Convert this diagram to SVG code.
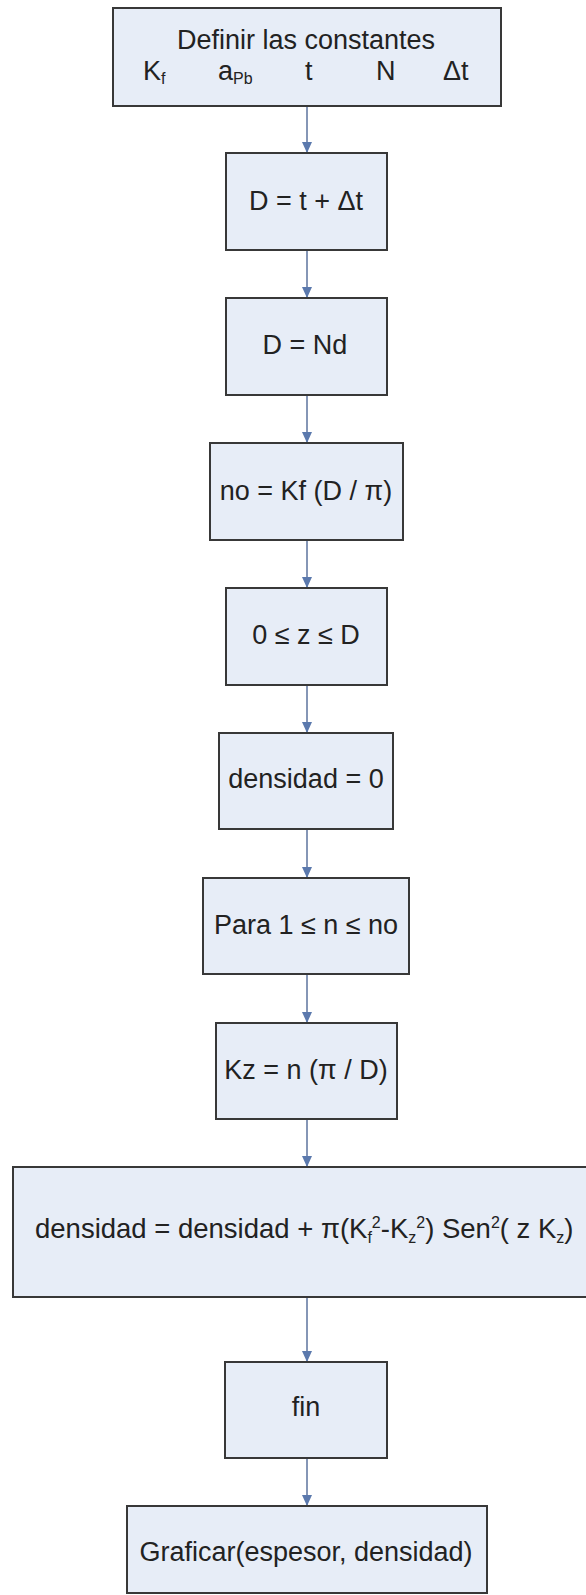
<svg xmlns="http://www.w3.org/2000/svg" width="586" height="1595" viewBox="0 0 586 1595">
  <defs>
    <style>
      .box { fill: #e7edf7; stroke: #383838; stroke-width: 2; }
      .lbl { font-family: "Liberation Sans", Arial, sans-serif; font-size: 27px; fill: #222; }
      .big { font-size: 27.5px; }
      .mid { text-anchor: middle; }
      .sm { font-size: 16px; }
      .conn { stroke: #8596b6; stroke-width: 2; fill: none; marker-end: url(#arr); }
    </style>
    <marker id="arr" markerUnits="userSpaceOnUse" viewBox="0 0 11 10" markerWidth="11" markerHeight="10" refX="11" refY="5" orient="auto">
      <path d="M0,0 L11,5 L0,10 Z" fill="#5b79ad"/>
    </marker>
  </defs>
  <rect width="586" height="1595" fill="#ffffff"/>

  <!-- connectors -->
  <g id="connectors">
    <line class="conn" x1="307" y1="106" x2="307" y2="153"/>
    <line class="conn" x1="307" y1="250" x2="307" y2="298"/>
    <line class="conn" x1="307" y1="395" x2="307" y2="443"/>
    <line class="conn" x1="307" y1="540" x2="307" y2="588"/>
    <line class="conn" x1="307" y1="685" x2="307" y2="733"/>
    <line class="conn" x1="307" y1="829" x2="307" y2="878"/>
    <line class="conn" x1="307" y1="974" x2="307" y2="1023"/>
    <line class="conn" x1="307" y1="1119" x2="307" y2="1167"/>
    <line class="conn" x1="307" y1="1297" x2="307" y2="1362"/>
    <line class="conn" x1="307" y1="1458" x2="307" y2="1506"/>
  </g>

  <!-- constants -->
  <g id="n1">
    <rect class="box" x="113" y="8" width="388" height="98"/>
    <text class="lbl mid" x="306" y="49">Definir las constantes</text>
    <text class="lbl" x="143" y="80">K<tspan class="sm" dy="4">f</tspan></text>
    <text class="lbl" x="218" y="80">a<tspan class="sm" dy="4">Pb</tspan></text>
    <text class="lbl" x="305" y="80">t</text>
    <text class="lbl" x="376" y="80">N</text>
    <text class="lbl" x="443" y="80">Δt</text>
  </g>

  <g id="n2">
    <rect class="box" x="226" y="153" width="161" height="97"/>
    <text class="lbl mid" x="306" y="210">D = t + Δt</text>
  </g>

  <g id="n3">
    <rect class="box" x="226" y="298" width="161" height="97"/>
    <text class="lbl mid" x="305" y="354">D = Nd</text>
  </g>

  <g id="n4">
    <rect class="box" x="210" y="443" width="193" height="97"/>
    <text class="lbl mid" x="306" y="500">no = Kf (D / π)</text>
  </g>

  <g id="n5">
    <rect class="box" x="226" y="588" width="161" height="97"/>
    <text class="lbl mid" x="306" y="644">0 ≤ z ≤ D</text>
  </g>

  <g id="n6">
    <rect class="box" x="219" y="733" width="174" height="96"/>
    <text class="lbl mid" x="306" y="788">densidad = 0</text>
  </g>

  <g id="n7">
    <rect class="box" x="203" y="878" width="206" height="96"/>
    <text class="lbl mid" x="306" y="934">Para 1 ≤ n ≤ no</text>
  </g>

  <g id="n8">
    <rect class="box" x="216" y="1023" width="181" height="96"/>
    <text class="lbl mid" x="306" y="1079">Kz = n (π / D)</text>
  </g>

  <g id="n9">
    <rect class="box" x="13" y="1167" width="600" height="130"/>
    <text class="lbl big" x="35" y="1238">densidad = densidad + π(K<tspan class="sm" dy="5">f</tspan><tspan class="sm" dy="-15">2</tspan><tspan dy="10">-K</tspan><tspan class="sm" dy="5">z</tspan><tspan class="sm" dy="-15">2</tspan><tspan dy="10">) Sen</tspan><tspan class="sm" dy="-10">2</tspan><tspan dy="10">( z K</tspan><tspan class="sm" dy="5">z</tspan><tspan dy="-5">)</tspan></text>
  </g>

  <g id="n10">
    <rect class="box" x="225" y="1362" width="162" height="96"/>
    <text class="lbl mid" x="306" y="1416">fin</text>
  </g>

  <g id="n11">
    <rect class="box" x="127" y="1506" width="360" height="87"/>
    <text class="lbl mid" x="306" y="1561">Graficar(espesor, densidad)</text>
  </g>
</svg>
